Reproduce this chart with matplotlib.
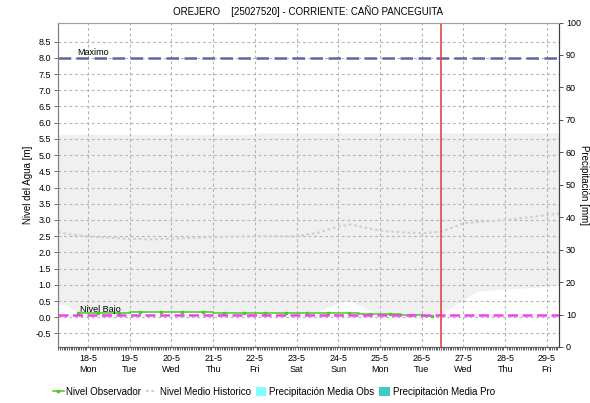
import datetime as dt
import matplotlib
matplotlib.use("Agg")
import matplotlib.pyplot as plt
import matplotlib.dates as mdates
from matplotlib.lines import Line2D
from matplotlib.patches import Patch

plt.rcParams['font.family'] = ['Liberation Sans', 'DejaVu Sans']

TITLE = "OREJERO    [25027520] - CORRIENTE: CAÑO PANCEGUITA"
YEAR, MONTH = 2020, 5

# Observed level (m), readings at 06:00 and 18:00 (day of month + fraction)
obs_t = [17.75, 18.25, 18.75, 19.25, 19.75, 20.25, 20.75, 21.25, 21.75,
         22.25, 22.75, 23.25, 23.75, 24.25, 24.75, 25.25, 25.75, 26.25]
obs_level = [0.14, 0.14, 0.14, 0.17, 0.17, 0.17, 0.17, 0.13, 0.13,
             0.13, 0.13, 0.13, 0.13, 0.13, 0.10, 0.10, 0.08, 0.04]

# Historic mean level (m)
hist_t = [17.28, 17.5, 18.0, 18.5, 19.0, 19.5, 20.0, 20.5, 21.0, 22.0,
          23.0, 23.5, 24.0, 24.3, 25.0, 25.5, 26.0, 26.5, 27.0, 28.0,
          29.0, 29.29]
hist_level = [2.63, 2.57, 2.49, 2.45, 2.42, 2.40, 2.42, 2.45, 2.47, 2.50,
              2.50, 2.60, 2.80, 2.86, 2.67, 2.62, 2.59, 2.65, 2.90, 3.00,
              3.15, 3.20]

# Historic range band (m)
band_t = [17.28, 17.45, 17.75, 22.05, 22.06, 23.4, 24.1, 24.3, 24.92,
          26.45, 27.32, 28.0, 28.75, 29.29]
band_low = [0.39, 0.39, 0.14, 0.13, 0.13, 0.13, 0.50, 0.50, 0.12,
            0.10, 0.81, 0.88, 0.92, 1.00]
band_high = [5.64, 5.64, 5.64, 5.64, 5.69, 5.69, 5.69, 5.69, 5.69,
             5.69, 5.69, 5.69, 5.69, 5.69]

NIVEL_MAXIMO = 8.0
NIVEL_BAJO = 0.08
NOW_T = 26.45
X_START, X_END = 17.28, 29.29
day_ticks = list(range(18, 30))


def to_date(t):
    day = int(t)
    return dt.datetime(YEAR, MONTH, day) + dt.timedelta(days=t - day)


fig = plt.figure(figsize=(5.90, 4.03), dpi=100)
ax = fig.add_axes([58 / 590, 1 - 347 / 403, 501 / 590, 324.5 / 403])
ax2 = ax.twinx()

ax.set_xlim(to_date(X_START), to_date(X_END))
ax.set_ylim(-0.917, 9.09)
ax2.set_ylim(0, 100)

ax.fill_between([to_date(t) for t in band_t], band_low, band_high,
                color='#f0f0f0', lw=0, zorder=0)

grid_kw = dict(color='#b4b4b4', lw=0.8, ls=(0, (2.5, 2.5)), zorder=1)
ax.set_yticks([i * 0.5 for i in range(-1, 18)])
for y in ax.get_yticks():
    ax.axhline(y, **grid_kw)
for d in day_ticks:
    ax.axvline(to_date(d), **grid_kw)

ax.plot([to_date(t) for t in hist_t], hist_level, color='#cfcfcf', lw=1.5,
        ls=(0, (1.3, 1.3)), zorder=2)

ax.axhline(NIVEL_MAXIMO, color='#5b6b9b', lw=1.8, ls=(0, (5, 2.2)), zorder=3)
ax.text(to_date(17.75), NIVEL_MAXIMO + 0.04, "Maximo", fontsize=6.5,
        ha='left', va='bottom', zorder=5)

ax.plot([to_date(t) for t in obs_t], obs_level, color='#44cc22', lw=1.1,
        drawstyle='steps-mid', zorder=3)
ax.plot([to_date(t) for t in obs_t], obs_level, ls='none', marker='s',
        ms=2.0, color='#44cc22', zorder=3)

ax.axhline(NIVEL_BAJO, color='#f040f0', lw=1.8, ls=(0, (4, 1.8)), zorder=4)
ax.text(to_date(17.8), NIVEL_BAJO + 0.02, "Nivel Bajo", fontsize=6.5,
        ha='left', va='bottom', zorder=5)

ax.axvline(to_date(NOW_T), color='#e84545', lw=1.2, zorder=5)

# axes cosmetics
ax.set_xticks([to_date(d) for d in day_ticks])
ax.set_xticklabels([f"{d}-{MONTH}\n{to_date(d).strftime('%a')}" for d in day_ticks],
                   fontsize=6.5, linespacing=1.3)
ax.xaxis.set_minor_locator(mdates.HourLocator(interval=1))
ax.tick_params(axis='x', which='major', length=0, pad=5)
ax.tick_params(axis='x', which='minor', length=2, width=0.6, color='#444444')
ax.set_yticklabels([f"{v:.1f}" for v in ax.get_yticks()], fontsize=6.5)
ax.tick_params(axis='y', length=3, width=0.6, pad=2, color='#555555')
ax.set_ylabel("Nivel del Agua [m]", fontsize=7, labelpad=2)

ax2.set_yticks(range(0, 101, 10))
ax2.set_yticklabels([str(v) for v in range(0, 101, 10)], fontsize=6.5)
ax2.tick_params(axis='y', length=3, width=0.6, pad=2, color='#333333')
ax2.set_ylabel("Precipitación [mm]", fontsize=7, rotation=270, labelpad=6)

for a in (ax, ax2):
    a.spines['top'].set_color('#a0a0a0')
    a.spines['left'].set_color('#808080')
    a.spines['right'].set_color('#404040')
    a.spines['bottom'].set_color('#606060')
    for s in a.spines.values():
        s.set_linewidth(0.8)

fig.text(308 / 590, 1 - 11 / 403, TITLE, fontsize=7, ha='center', va='center')

handles = [
    Line2D([], [], color='#44cc22', lw=1.1, marker='s', ms=2.0),
    Line2D([], [], color='#cfcfcf', lw=1.5, ls=(0, (1.3, 1.3))),
    Patch(facecolor='#80ffff', edgecolor='none'),
    Patch(facecolor='#40c8c8', edgecolor='none'),
]
labels = ["Nivel Observador", "Nivel Medio Historico",
          "Precipitación Media Obs", "Precipitación Media Pro"]
fig.legend(handles, labels, loc='center', ncol=4, frameon=False,
           bbox_to_anchor=(274 / 590, 1 - 392 / 403), fontsize=7,
           handlelength=1.1, handletextpad=0.3, columnspacing=0.5,
           handleheight=1.0)

fig.savefig("out.png", dpi=100)
